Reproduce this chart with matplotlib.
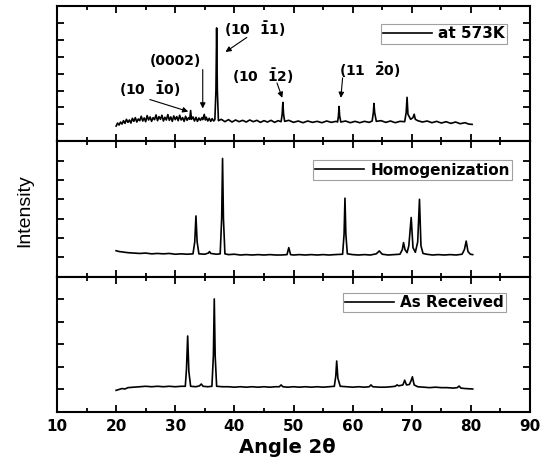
import matplotlib
matplotlib.use("Agg")
import matplotlib.pyplot as plt
from matplotlib.ticker import MultipleLocator, FixedLocator

# === Data (angle 2theta, intensity a.u.) ===
hot_angle = [20.0, 20.25, 20.5, 20.75, 21.0, 21.25, 21.5, 21.75, 22.0, 22.25, 22.5, 22.75,
             23.0, 23.25, 23.5, 23.75, 24.0, 24.25, 24.5, 24.75, 25.0, 25.25, 25.5, 25.75,
             26.0, 26.25, 26.5, 26.75, 27.0, 27.25, 27.5, 27.75, 28.0, 28.25, 28.5, 28.75,
             29.0, 29.25, 29.5, 29.75, 30.0, 30.25, 30.5, 30.75, 31.0, 31.25, 31.5, 31.75,
             32.0, 32.25, 32.45, 32.6, 32.75, 33.0, 33.25, 33.5, 33.75, 34.0, 34.25, 34.5,
             34.65, 34.9, 35.1, 35.25, 35.5, 35.75, 36.0, 36.25, 36.5, 36.7, 36.88, 37.0,
             37.12, 37.3, 37.8, 38.4, 39.0, 39.6, 40.2, 40.8, 41.4, 42.0, 42.6, 43.2, 43.8,
             44.4, 45.0, 45.6, 46.2, 46.8, 47.4, 47.9, 48.08, 48.2, 48.32, 48.5, 49.2, 50.0,
             50.8, 51.6, 52.4, 53.2, 54.0, 54.8, 55.6, 56.4, 57.2, 57.45, 57.6, 57.7, 57.8,
             58.0, 58.8, 59.6, 60.4, 61.2, 62.0, 62.8, 63.3, 63.5, 63.6, 63.72, 64.0, 64.8,
             65.6, 66.4, 67.2, 68.0, 68.8, 69.05, 69.2, 69.35, 69.8, 70.2, 70.4, 70.6, 71.0,
             71.8, 72.6, 73.4, 74.2, 75.0, 75.8, 76.6, 77.4, 78.2, 79.0, 79.6, 80.2]
hot_int = [-10, 8, -4, 14, 2, 22, 6, 30, 12, 26, 8, 36,
           18, 40, 14, 32, 22, 48, 20, 38, 16, 52, 26, 44,
           18, 40, 28, 56, 22, 46, 30, 54, 20, 42, 26, 58,
           24, 44, 18, 50, 28, 46, 22, 54, 26, 40, 18, 48,
           24, 40, 30, 82, 30, 44, 20, 42, 18, 38, 24, 40,
           28, 59, 26, 42, 20, 36, 18, 34, 20, 28, 200, 570,
           200, 22, 30, 16, 28, 14, 26, 16, 24, 14, 26, 16, 24,
           12, 22, 14, 24, 12, 22, 16, 60, 130, 60, 18, 24, 12,
           20, 10, 20, 12, 18, 10, 20, 12, 18, 14, 50, 106, 50,
           14, 20, 10, 18, 10, 18, 12, 20, 70, 124, 70, 18, 22,
           12, 20, 10, 18, 16, 70, 160, 60, 30, 40, 60, 30, 22,
           14, 20, 10, 18, 8, 16, 6, 14, 4, 10, 2, 0]

homo_angle = [20.0, 20.5, 21.0, 22.0, 23.0, 24.0, 25.0, 26.0, 27.0, 28.0, 29.0, 30.0, 31.0,
              32.0, 33.0, 33.3, 33.5, 33.7, 34.0, 35.0, 35.6, 35.8, 36.0, 37.0, 37.6, 37.85,
              38.0, 38.15, 38.4, 39.0, 40.0, 41.0, 42.0, 43.0, 44.0, 45.0, 46.0, 47.0, 48.0,
              48.9, 49.2, 49.5, 50.0, 51.0, 52.0, 53.0, 54.0, 55.0, 56.0, 57.0, 58.3, 58.55,
              58.7, 58.85, 59.1, 60.0, 61.0, 62.0, 63.0, 64.0, 64.5, 65.0, 66.0, 67.0, 68.0,
              68.4, 68.6, 68.85, 69.2, 69.5, 69.9, 70.2, 70.6, 71.0, 71.3, 71.55, 71.9, 72.5,
              73.5, 74.5, 75.5, 76.5, 77.5, 78.5, 78.9, 79.2, 79.5, 79.9, 80.3]
homo_int = [34, 30, 28, 24, 22, 20, 22, 18, 20, 18, 20, 16, 18,
            16, 18, 80, 214, 80, 18, 16, 22, 30, 20, 16, 18, 200,
            511, 200, 18, 14, 16, 12, 14, 12, 14, 12, 14, 12, 12,
            14, 50, 14, 12, 14, 12, 14, 12, 14, 12, 14, 16, 120,
            306, 120, 18, 14, 12, 14, 12, 18, 33, 16, 12, 14, 16,
            40, 76, 40, 24, 60, 206, 50, 26, 80, 300, 60, 20, 16,
            12, 14, 12, 14, 12, 16, 40, 84, 30, 16, 14]

recv_angle = [20.0, 20.5, 21.0, 21.5, 22.0, 23.0, 24.0, 25.0, 26.0, 27.0, 28.0, 29.0, 30.0,
              31.0, 31.7, 31.9, 32.1, 32.3, 32.6, 33.5, 34.1, 34.4, 34.7, 35.5, 36.2, 36.45,
              36.6, 36.75, 37.0, 38.0, 39.0, 40.0, 41.0, 42.0, 43.0, 44.0, 45.0, 46.0, 47.0,
              47.6, 47.9, 48.2, 49.0, 50.0, 51.0, 52.0, 53.0, 54.0, 55.0, 56.0, 56.9, 57.15,
              57.3, 57.5, 57.9, 59.0, 60.0, 61.0, 62.0, 62.8, 63.1, 63.4, 64.5, 65.5, 66.5,
              67.2, 67.5, 67.8, 68.5, 68.8, 69.1, 69.6, 69.9, 70.1, 70.4, 71.0, 72.0, 73.0,
              74.0, 75.0, 76.0, 77.0, 77.7, 78.0, 78.3, 79.0, 80.3]
recv_int = [-4, 0, 4, 2, 8, 10, 12, 14, 12, 14, 12, 14, 12,
            14, 14, 90, 237, 80, 14, 12, 16, 24, 14, 12, 14, 150,
            401, 150, 14, 12, 12, 10, 12, 10, 12, 10, 12, 10, 12,
            12, 20, 12, 10, 12, 10, 12, 10, 12, 10, 12, 14, 60,
            126, 50, 14, 12, 10, 12, 10, 12, 20, 12, 10, 10, 12,
            14, 20, 16, 20, 41, 20, 22, 40, 56, 20, 12, 10, 8,
            10, 8, 8, 6, 8, 15, 6, 4, 2]

# Miller-Bravais labels on the 573K pattern: text, text position, arrow start, arrow end
peak_labels = [r"(10  $\mathbf{\bar{1}}$0)", "(0002)", r"(10  $\mathbf{\bar{1}}$1)",
               r"(10  $\mathbf{\bar{1}}$2)", r"(11  $\mathbf{\bar{2}}$0)"]
label_pos = [(25.7, 206), (30.0, 376), (43.5, 565), (44.9, 282), (62.9, 320)]
arrow_from = [(25.7, 147), (34.65, 324), (42.1, 514), (47.2, 245), (58.3, 275)]
arrow_to = [(32.2, 76), (34.65, 94), (38.5, 428), (48.1, 157), (58.0, 157)]

panels = [
    (hot_angle, hot_int, "at 573K", (-100, 700), (0.951, 0.867)),
    (homo_angle, homo_int, "Homogenization", (-100, 600), (0.962, 0.86)),
    (recv_angle, recv_int, "As Received", (-100, 500), (0.949, 0.882)),
]

fig, axes = plt.subplots(3, 1, figsize=(5.51, 4.59), dpi=100, sharex=True)
fig.subplots_adjust(left=0.1034, right=0.962, top=0.987, bottom=0.1024, hspace=0)

for ax, (x, y, name, ylim, anchor) in zip(axes, panels):
    ax.plot(x, y, color="black", lw=1.2, label=name)
    ax.set_xlim(10, 90)
    ax.set_ylim(*ylim)
    ax.xaxis.set_major_locator(MultipleLocator(10))
    ax.xaxis.set_minor_locator(MultipleLocator(5))
    ax.yaxis.set_major_locator(FixedLocator(list(range(0, ylim[1], 100))))
    ax.tick_params(axis="both", which="both", direction="in", top=True, right=True,
                   labelleft=False, width=1.3)
    ax.tick_params(axis="both", which="major", length=5)
    ax.tick_params(axis="x", which="minor", length=3)
    for s in ax.spines.values():
        s.set_linewidth(1.5)
    leg = ax.legend(loc="upper right", bbox_to_anchor=anchor, frameon=True, fancybox=False,
                    edgecolor="#888888", prop={"weight": "bold", "size": 11},
                    handlelength=3.2, handletextpad=0.4, borderpad=0.15, borderaxespad=0)
    leg.get_frame().set_linewidth(0.8)

axes[-1].tick_params(axis="x", which="major", labelsize=11, pad=5)
for lbl in axes[-1].get_xticklabels():
    lbl.set_fontweight("bold")

top = axes[0]
for txt, pos, a0, a1 in zip(peak_labels, label_pos, arrow_from, arrow_to):
    top.text(pos[0], pos[1], txt, ha="center", va="center", fontsize=10, fontweight="bold")
    top.annotate("", xy=a1, xytext=a0,
                 arrowprops=dict(arrowstyle="-|>", color="black", lw=0.8,
                                 mutation_scale=8, shrinkA=0, shrinkB=0))

fig.text(0.521, 0.026, "Angle 2\u03b8", ha="center", va="center", fontsize=14, fontweight="bold")
fig.text(0.045, 0.542, "Intensity", ha="center", va="center", rotation=90,
         fontsize=14, family="Liberation Sans")

plt.savefig("out.png", dpi=100)
plt.close()
